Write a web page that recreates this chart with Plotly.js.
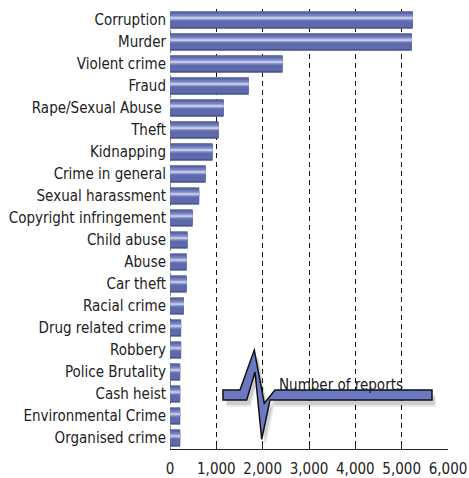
<!DOCTYPE html>
<html>
<head>
<meta charset="utf-8">
<script src="https://cdn.plot.ly/plotly-3.0.1.min.js"></script>
<style>
html,body{margin:0;padding:0;background:#fff;}
#chart{width:469px;height:478px;}
</style>
</head>
<body>
<div id="chart"></div>
<script>
const categories = ["Corruption","Murder","Violent crime","Fraud","Rape/Sexual Abuse ","Theft","Kidnapping","Crime in general","Sexual harassment","Copyright infringement","Child abuse","Abuse","Car theft","Racial crime","Drug related crime","Robbery","Police Brutality","Cash heist","Environmental Crime","Organised crime"];
const reports = [5240,5220,2430,1700,1160,1050,920,770,630,490,380,360,360,300,240,240,220,220,220,220];
const xTickVals = [0,1000,2000,3000,4000,5000,6000];
const legendLabel = "Number of reports";

const FONT = '"DejaVu Sans Condensed","Liberation Sans Narrow",sans-serif';

// cylindrical stripe layers (px from top of bar, bar is ~17px in 22px row)
const ROW = 22, BAR_H = 17.3;
const layers = [
  [0, 17.3, '#4b5590'],
  [1, 15.6, '#5e6aab'],
  [3, 9.5, '#7883bf'],
  [5, 8.2, '#a3acd8'],
  [6, 7.6, '#c6ccea']
];
const traces = layers.map(([a,b,color]) => ({
  type:'bar', orientation:'h', x: reports, y: categories,
  offset: (-BAR_H/2 + a)/ROW, width: (b-a)/ROW,
  marker:{color:color, line:{width:0}}, hoverinfo:'skip', showlegend:false
}));

// plot area in pixels
const L = 170, R = 448, T = 9, B = 449;
function P(px,py){ return ((px-L)/(R-L)).toFixed(4)+','+((B-py)/(B-T)).toFixed(4); }
function pathFrom(pts,dx,dy){ return 'M'+pts.map(p=>P(p[0]+dx,p[1]+dy)).join('L')+'Z'; }
const beat = [[223,390],[240,390],[254.3,350],[264.3,403.3],[275,390],[432,390],[432,400],[270,400],[261.7,439.3],[255,372],[246.7,400],[223,400]];

const shapes = [
  {type:'line', xref:'x', yref:'paper', x0:0, x1:0, y0:0, y1:1, line:{color:'#111', width:1, dash:'5px,4px'}, layer:'below'},
  {type:'path', xref:'paper', yref:'paper', path:pathFrom(beat,4,7), fillcolor:'rgba(0,0,0,0.08)', line:{width:0}, layer:'above'},
  {type:'path', xref:'paper', yref:'paper', path:pathFrom(beat,3,5), fillcolor:'rgba(0,0,0,0.12)', line:{width:0}, layer:'above'},
  {type:'path', xref:'paper', yref:'paper', path:pathFrom(beat,0,0), fillcolor:'#6b79c2', line:{color:'#111', width:1.5}, layer:'above'}
];

const layout = {
  width:469, height:478,
  margin:{l:L, r:469-R, t:T, b:478-B, pad:0},
  paper_bgcolor:'#fff', plot_bgcolor:'#fff',
  barmode:'overlay',
  font:{family:FONT, size:15, color:'#222'},
  xaxis:{
    range:[0,6000], tickvals:xTickVals, tickformat:',d',
    showgrid:true, gridcolor:'#111', gridwidth:1, griddash:'5px,4px',
    zeroline:false, showline:true, linecolor:'#222', linewidth:1,
    ticks:'inside', ticklen:4, tickcolor:'#222', tickwidth:1,
    ticklabelstandoff:6,
    tickfont:{family:FONT, size:15, color:'#222'}
  },
  yaxis:{
    type:'category', categoryorder:'array', categoryarray:categories,
    range:[categories.length-0.5,-0.5],
    showgrid:false, zeroline:false, showline:false, ticks:'',
    ticklabelstandoff:3,
    tickfont:{family:FONT, size:15, color:'#222'}
  },
  shapes:shapes,
  annotations:[{
    xref:'paper', yref:'paper', x:(341-L)/(R-L), y:(B-385)/(B-T),
    text:legendLabel, showarrow:false, xanchor:'center', yanchor:'middle',
    font:{family:FONT, size:15, color:'#1a1a1a'}
  }]
};

Plotly.newPlot('chart', traces, layout, {displayModeBar:false, staticPlot:true});
</script>
</body>
</html>
